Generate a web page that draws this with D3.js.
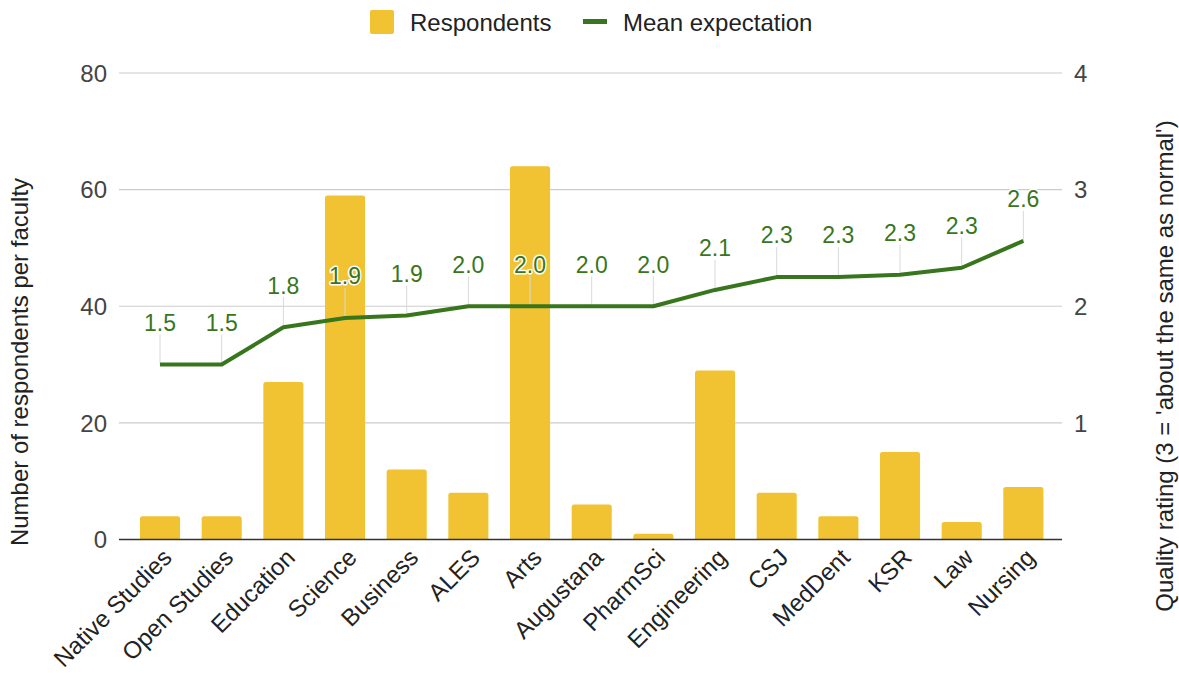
<!DOCTYPE html>
<html>
<head>
<meta charset="utf-8">
<script src="https://cdn.jsdelivr.net/npm/d3@7/dist/d3.min.js"></script>
<style>
  html, body { margin: 0; padding: 0; background: #fff; }
  svg { display: block; font-family: "Liberation Sans", Arial, sans-serif; }
</style>
</head>
<body>
<svg id="chart" width="1179" height="673"></svg>
<script>
// Faculties, in display order
const faculties = ["Native Studies", "Open Studies", "Education", "Science", "Business", "ALES",
  "Arts", "Augustana", "PharmSci", "Engineering", "CSJ", "MedDent", "KSR", "Law", "Nursing"];

// Number of respondents per faculty (left axis)
const respondents = [4, 4, 27, 59, 12, 8, 64, 6, 1, 29, 8, 4, 15, 3, 9];

// Mean quality expectation per faculty (right axis)
const meanExpectation = [1.5, 1.5, 1.82, 1.9, 1.92, 2.0, 2.0, 2.0, 2.0, 2.14, 2.25, 2.25, 2.27, 2.33, 2.56];

// Axis ticks
const leftTicks = [0, 20, 40, 60, 80];
const rightTicks = [1, 2, 3, 4];

const seriesNames = ["Respondents", "Mean expectation"];
const leftTitle = "Number of respondents per faculty";
const rightTitle = "Quality rating (3 = 'about the same as normal')";

const BAR = "#f1c232", LINE = "#38761d", GRID = "#cccccc";
const FONT = 24;

const svg = d3.select("#chart");
const area = { left: 119, right: 1062, top: 73, bottom: 539.5 };

const x = d3.scaleBand().domain(faculties).range([129.2, 1054.2])
  .paddingInner(0.35).paddingOuter(0.175);
const yL = d3.scaleLinear().domain([0, 80]).range([area.bottom, area.top]);
const yR = d3.scaleLinear().domain([0, 4]).range([area.bottom, area.top]);

// Gridlines
svg.append("g").selectAll("line").data(leftTicks.filter(t => t > 0)).join("line")
  .attr("x1", area.left).attr("x2", area.right)
  .attr("y1", d => yL(d)).attr("y2", d => yL(d))
  .attr("stroke", GRID).attr("stroke-width", 1.2);

// Left tick labels
svg.append("g").selectAll("text").data(leftTicks).join("text")
  .attr("x", 107).attr("y", d => yL(d)).attr("dy", "0.36em")
  .attr("text-anchor", "end").attr("font-size", FONT).attr("fill", "#444")
  .text(d => d);

// Right tick labels
svg.append("g").selectAll("text").data(rightTicks).join("text")
  .attr("x", 1074).attr("y", d => yR(d)).attr("dy", "0.36em")
  .attr("text-anchor", "start").attr("font-size", FONT).attr("fill", "#444")
  .text(d => d);

// Bars with rounded top corners
const r = 2.5;
svg.append("g").selectAll("path").data(faculties).join("path")
  .attr("fill", BAR)
  .attr("d", (f, i) => {
    const x0 = x(f), w = x.bandwidth(), y0 = yL(respondents[i]), yb = yL(0);
    const rr = Math.min(r, (yb - y0));
    return `M${x0},${yb}V${y0 + rr}Q${x0},${y0} ${x0 + rr},${y0}H${x0 + w - rr}Q${x0 + w},${y0} ${x0 + w},${y0 + rr}V${yb}Z`;
  });

// Baseline
svg.append("line")
  .attr("x1", area.left).attr("x2", area.right)
  .attr("y1", yL(0)).attr("y2", yL(0))
  .attr("stroke", "#333").attr("stroke-width", 1.6);

const cx = f => x(f) + x.bandwidth() / 2;

// Annotation stems
svg.append("g").selectAll("line").data(faculties).join("line")
  .attr("x1", f => cx(f)).attr("x2", f => cx(f))
  .attr("y1", (f, i) => yR(meanExpectation[i]))
  .attr("y2", (f, i) => yR(meanExpectation[i]) - 30)
  .attr("stroke", "#d9d9d9").attr("stroke-width", 1);

// Mean expectation line
svg.append("path")
  .datum(faculties)
  .attr("fill", "none").attr("stroke", LINE).attr("stroke-width", 4)
  .attr("stroke-linejoin", "round")
  .attr("d", d3.line().x(f => cx(f)).y((f, i) => yR(meanExpectation[i])));

// Value annotations
const fmt = d3.format(".1f");
svg.append("g").selectAll("text").data(faculties).join("text")
  .attr("x", f => cx(f))
  .attr("y", (f, i) => yR(meanExpectation[i]) - 42)
  .attr("dy", "0.36em")
  .attr("text-anchor", "middle").attr("font-size", 23).attr("fill", LINE)
  .attr("stroke", "#fff").attr("stroke-width", 3).attr("paint-order", "stroke")
  .attr("stroke-linejoin", "round")
  .text((f, i) => fmt(meanExpectation[i]));

// Category labels, rotated
svg.append("g").selectAll("text").data(faculties).join("text")
  .attr("transform", f => `translate(${cx(f) + 7},${553}) rotate(-45)`)
  .attr("text-anchor", "end").attr("dy", "0.36em")
  .attr("font-size", FONT).attr("fill", "#222")
  .text(f => f);

// Axis titles
svg.append("text")
  .attr("transform", "translate(19,362) rotate(-90)")
  .attr("text-anchor", "middle").attr("dy", "0.36em")
  .attr("font-size", FONT).attr("fill", "#222")
  .text(leftTitle);
svg.append("text")
  .attr("transform", "translate(1164,366) rotate(-90)")
  .attr("text-anchor", "middle").attr("dy", "0.36em")
  .attr("font-size", FONT).attr("fill", "#222")
  .text(rightTitle);

// Legend
const lg = svg.append("g");
lg.append("rect").attr("x", 370).attr("y", 10).attr("width", 24).attr("height", 24)
  .attr("rx", 2).attr("fill", BAR);
lg.append("text").attr("x", 410).attr("y", 22).attr("dy", "0.36em")
  .attr("font-size", FONT).attr("fill", "#222").text(seriesNames[0]);
lg.append("rect").attr("x", 583).attr("y", 19).attr("width", 24).attr("height", 5)
  .attr("fill", LINE);
lg.append("text").attr("x", 623).attr("y", 22).attr("dy", "0.36em")
  .attr("font-size", FONT).attr("fill", "#222").text(seriesNames[1]);
</script>
</body>
</html>
